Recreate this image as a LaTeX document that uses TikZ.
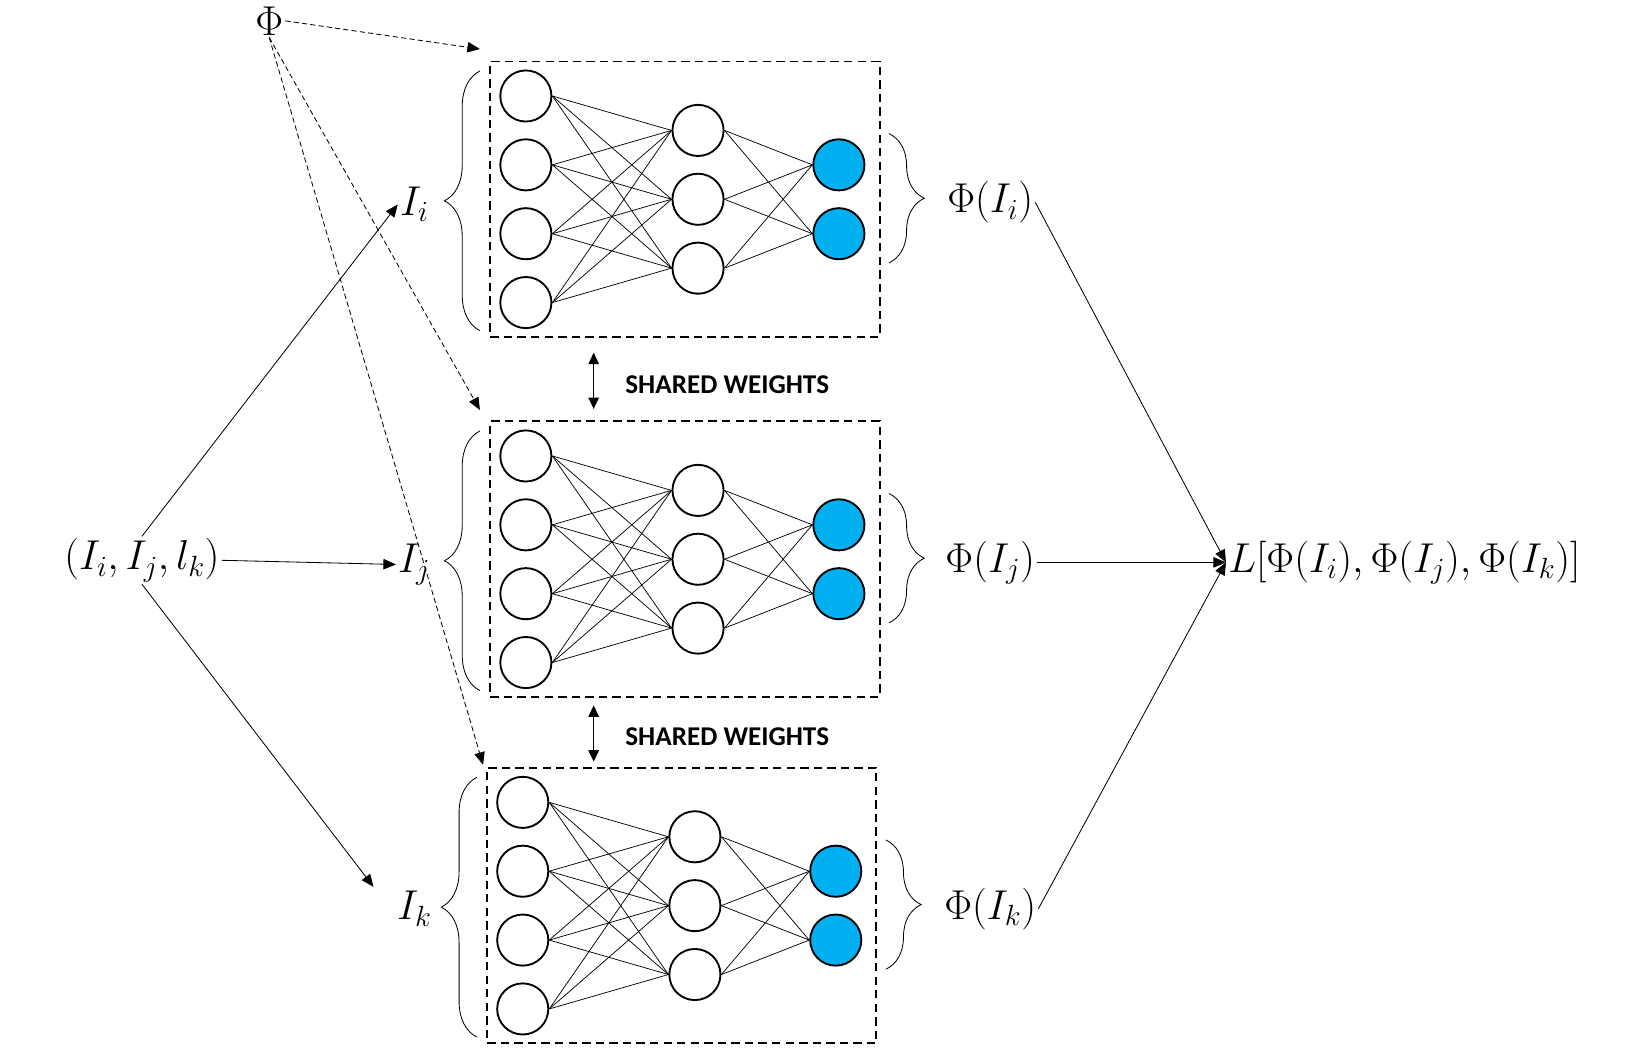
\RequirePackage{fix-cm}
\documentclass[tikz,border=0pt]{standalone}
\usepackage[no-math]{fontspec}
\newfontfamily\swfont{Carlito}
\usetikzlibrary{arrows.meta,decorations.pathreplacing,calc}
\definecolor{nnblue}{HTML}{00B0F0}
\tikzset{
  neuron/.style={circle, draw, line width=1.8pt, minimum size=49pt, inner sep=0pt, fill=white},
  outneuron/.style={neuron, fill=nnblue},
  wire/.style={line width=0.7pt},
  netbox/.style={draw, line width=1.9pt, dash pattern=on 8pt off 5pt, minimum width=373pt, minimum height=264pt, inner sep=0pt},
  lbl/.style={font=\fontsize{40}{48}\selectfont, inner sep=2pt},
  swlbl/.style={font=\swfont\bfseries\fontsize{26}{31}\selectfont, inner sep=0pt},
  arr/.style={-{Triangle[length=12pt,width=10pt]}, line width=0.8pt},
  phiarr/.style={arr, dash pattern=on 5pt off 3pt},
  swarr/.style={{Triangle[length=11pt,width=10pt]}-{Triangle[length=11pt,width=10pt]}, line width=1.5pt},
  brc/.style={decorate, decoration={brace, amplitude=34pt}, line width=0.8pt}
}
\begin{document}
\begin{tikzpicture}[x=1pt,y=-1pt]
\useasboundingbox (0,0) rectangle (1568,1009);

% three networks
\foreach \n/\bx/\by in {A/469/58, B/469/403, C/466/735} {
  \node[netbox, anchor=north west] (box\n) at (\bx,\by) {};
  \foreach \k in {1,...,4}
    \node[neuron] (\n i\k) at (\bx+35, \by+34+66*\k-66) {};
  \foreach \k in {1,...,3}
    \node[neuron] (\n h\k) at (\bx+200, \by+67+66*\k-66) {};
  \foreach \k in {1,2}
    \node[outneuron] (\n o\k) at (\bx+335, \by+100+66*\k-66) {};
  \foreach \a in {1,...,4}
    \foreach \b in {1,2,3}
      \draw[wire] (\n i\a.east) -- (\n h\b.west);
  \foreach \a in {1,2,3}
    \foreach \b in {1,2}
      \draw[wire] (\n h\a.east) -- (\n o\b.west);
  % braces
  \draw[brc] ($(box\n.south west)+(-9,-7)$) -- ($(box\n.north west)+(-9,10)$);
  \draw[brc] ($(box\n.north east)+(8,70)$) -- ($(box\n.north east)+(8,194)$);
}

% labels
\node[lbl] (phi) at (258,20) {$\Phi$};
\node[lbl] (trip) at (136,537) {$(I_i,I_j,l_k)$};
\node[lbl] (Ii) at (397,196) {$I_i$};
\node[lbl] (Ij) at (397,541) {$I_j$};
\node[lbl] (Ik) at (397,871) {$I_k$};
\node[lbl] (pIi) at (949,194) {$\Phi(I_i)$};
\node[lbl] (pIj) at (949,539) {$\Phi(I_j)$};
\node[lbl] (pIk) at (949,871) {$\Phi(I_k)$};
\node[lbl] (loss) at (1346,539) {$L[\Phi(I_i),\Phi(I_j),\Phi(I_k)]$};
\node[swlbl] (swA) at (697,369) {SHARED WEIGHTS};
\node[swlbl] (swB) at (697,706) {SHARED WEIGHTS};

% coordinates for free ends
\coordinate (tA) at (460,47);
\coordinate (tB) at (460,393);
\coordinate (tC) at (463,733);
\coordinate (kIn) at (358,850);
\coordinate (swA1) at (569,338);
\coordinate (swA2) at (569,392);
\coordinate (swB1) at (569,676);
\coordinate (swB2) at (569,730);

% connectors
\draw[phiarr] (phi.east) -- (tA);
\draw[phiarr] (phi.south) -- (tB);
\draw[phiarr] (phi.south) -- (tC);
\draw[arr] (trip.north) -- (Ii.west);
\draw[arr] (trip.east) -- (Ij.west);
\draw[arr] (trip.south) -- (kIn);
\draw[arr] (pIi.east) -- (loss.west);
\draw[arr] (pIj.east) -- (loss.west);
\draw[arr] (pIk.east) -- (loss.west);
\draw[swarr] (swA1) -- (swA2);
\draw[swarr] (swB1) -- (swB2);
\end{tikzpicture}
\end{document}
